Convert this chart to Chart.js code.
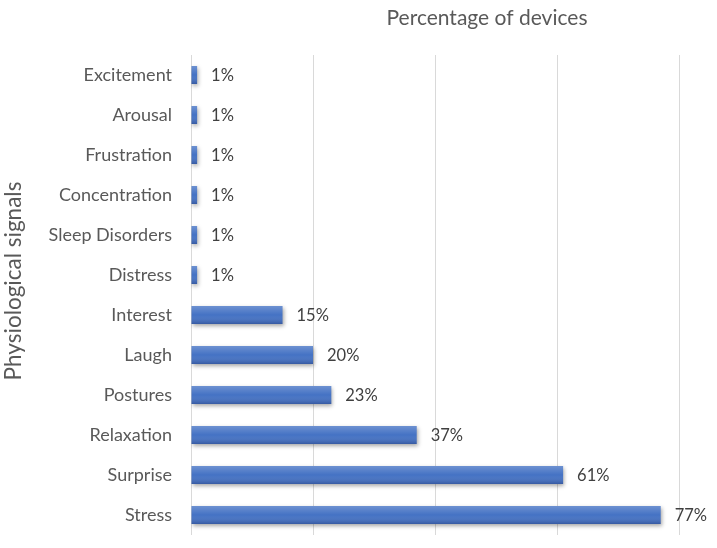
<!DOCTYPE html>
<html>
<head>
<meta charset="utf-8">
<script src="https://cdn.jsdelivr.net/npm/chart.js@4.4.0/dist/chart.umd.min.js"></script>
<style>
  html, body { margin: 0; padding: 0; background: #fff; }
  #wrap { width: 717px; height: 548px; }
</style>
</head>
<body>
<div id="wrap"><canvas id="signalsChart"></canvas></div>
<script>
const signals = ['Excitement', 'Arousal', 'Frustration', 'Concentration', 'Sleep Disorders', 'Distress',
  'Interest', 'Laugh', 'Postures', 'Relaxation', 'Surprise', 'Stress'];
const percentages = [1, 1, 1, 1, 1, 1, 15, 20, 23, 37, 61, 77];
const xTicks = [0, 20, 40, 60, 80];

const FONT = 'Lato, "Open Sans", sans-serif';

// shadow + shading on the bars, value labels, chart title
const barLook = {
  id: 'barLook',
  beforeDatasetDraw(chart) {
    const ctx = chart.ctx;
    ctx.save();
    ctx.shadowColor = 'rgba(0,0,0,0.35)';
    ctx.shadowBlur = 4;
    ctx.shadowOffsetX = 1;
    ctx.shadowOffsetY = 2;
  },
  afterDatasetDraw(chart) {
    const ctx = chart.ctx;
    ctx.restore();
    const meta = chart.getDatasetMeta(0);
    meta.data.forEach((bar, i) => {
      const top = bar.y - bar.height / 2;
      const g = ctx.createLinearGradient(0, top, 0, top + bar.height);
      g.addColorStop(0, 'rgba(255,255,255,0.22)');
      g.addColorStop(0.5, 'rgba(255,255,255,0)');
      g.addColorStop(1, 'rgba(0,0,40,0.22)');
      ctx.fillStyle = g;
      ctx.fillRect(bar.base, top, bar.x - bar.base, bar.height);

      ctx.fillStyle = '#404040';
      ctx.font = '16.5px ' + FONT;
      ctx.textBaseline = 'middle';
      ctx.textAlign = 'left';
      ctx.fillText(percentages[i] + '%', bar.x + 14, bar.y + 1);
    });
  },
  afterDraw(chart) {
    const ctx = chart.ctx;
    ctx.save();
    ctx.fillStyle = '#595959';
    ctx.font = '21px ' + FONT;
    ctx.textAlign = 'center';
    ctx.textBaseline = 'middle';
    ctx.fillText('Percentage of devices', 487, 18);
    ctx.translate(14, 281);
    ctx.rotate(-Math.PI / 2);
    ctx.font = '22.5px ' + FONT;
    ctx.fillText('Physiological signals', 0, 0);
    ctx.restore();
  }
};

new Chart(document.getElementById('signalsChart'), {
  type: 'bar',
  data: {
    labels: signals,
    datasets: [{
      data: percentages,
      backgroundColor: '#4472C4',
      barPercentage: 0.45,
      categoryPercentage: 1
    }]
  },
  options: {
    indexAxis: 'y',
    responsive: true,
    maintainAspectRatio: false,
    animation: false,
    layout: { padding: { top: 55, right: 38, bottom: 13, left: 0 } },
    plugins: {
      legend: { display: false },
      tooltip: { enabled: false }
    },
    scales: {
      x: {
        min: xTicks[0],
        max: xTicks[xTicks.length - 1],
        afterBuildTicks: scale => { scale.ticks = xTicks.map(v => ({ value: v })); },
        ticks: { display: false },
        grid: { color: '#d9d9d9', lineWidth: 1, drawTicks: false },
        border: { display: false },
        afterFit: scale => { scale.height = 0; scale.paddingLeft = 0; scale.paddingRight = 0; }
      },
      y: {
        grid: { display: false },
        border: { display: false },
        ticks: {
          color: '#595959',
          padding: 11,
          font: { family: FONT, size: 18 }
        },
        afterFit: scale => {
          scale.width = 191;
          scale.paddingTop = 0;
          scale.paddingBottom = 0;
        }
      }
    }
  },
  plugins: [barLook]
});
</script>
</body>
</html>
